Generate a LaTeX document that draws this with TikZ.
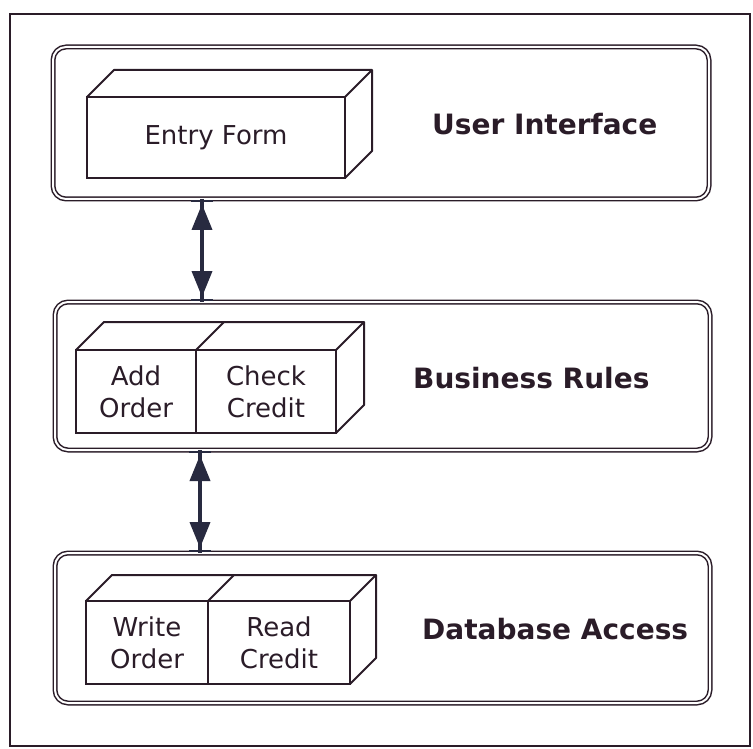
\documentclass[tikz,border=0pt]{standalone}
\usepackage{fontspec}
\setmainfont{DejaVu Sans}
\usetikzlibrary{arrows.meta,calc}
\definecolor{ink}{RGB}{42,28,40}
\definecolor{navy}{RGB}{40,42,64}
\begin{document}
\begin{tikzpicture}[x=1pt,y=-1pt,
  frame/.style={draw=ink,line width=1.5pt,inner sep=0pt,outer sep=0pt},
  layer/.style={draw=ink,double=white,double distance=2pt,line width=1.5pt,
    rounded corners=13pt,inner sep=0pt,outer sep=0pt},
  face/.style={draw=ink,line width=2pt,inner sep=0pt,outer sep=0pt,
    align=center,font=\fontsize{26}{32}\selectfont,text=ink},
  edge3d/.style={draw=ink,line width=2pt,line join=round},
  title/.style={font=\fontsize{28}{33}\bfseries\selectfont,text=ink,inner sep=0pt,anchor=base west},
  shaft/.style={draw=navy,line width=3.8pt},
  heads/.style={draw=navy,fill=navy,line width=3.8pt,shorten <=5pt,shorten >=5pt,
    {Triangle[width=20pt,length=26pt]}-{Triangle[width=20pt,length=26pt]}},
  capbar/.style={draw=navy,line width=2.6pt}]
\useasboundingbox (0,0) rectangle (753,749);
% outer frame
\node[frame,minimum width=740pt,minimum height=732pt] (outer) at (380,380) {};
% layers
\node[layer,minimum width=656pt,minimum height=152pt] (ui) at (381,123) {};
\node[layer,minimum width=655pt,minimum height=148pt] (br) at (382.5,376) {};
\node[layer,minimum width=655pt,minimum height=150pt] (da) at (382.5,628) {};
% titles
\node[title] (tui) at (432,135) {User Interface};
\node[title] (tbr) at (413,388) {Business Rules};
\node[title] (tda) at (422,639) {Database Access};
% Entry form box
\node[face,minimum width=258pt,minimum height=81pt] (ef) at (216,137.5) {Entry Form};
\draw[edge3d] (ef.north west) -- ++(27,-27) -- ($(ef.north east)+(27,-27)$) -- ++(0,81) -- (ef.south east);
\draw[edge3d] (ef.north east) -- ++(27,-27);
% Business rules boxes
\node[face,minimum width=120pt,minimum height=83pt] (ao) at (136,391.5) {Add\\Order};
\node[face,minimum width=140pt,minimum height=83pt] (cc) at (266,391.5) {Check\\Credit};
\draw[edge3d] (ao.north west) -- ++(28,-28) -- ($(cc.north east)+(28,-28)$) -- ++(0,83) -- (cc.south east);
\draw[edge3d] (cc.north east) -- ++(28,-28);
\draw[edge3d] (ao.north east) -- ++(28,-28);
% Database access boxes
\node[face,minimum width=122pt,minimum height=83pt] (wo) at (147,642.5) {Write\\Order};
\node[face,minimum width=142pt,minimum height=83pt] (rc) at (279,642.5) {Read\\Credit};
\draw[edge3d] (wo.north west) -- ++(26,-26) -- ($(rc.north east)+(26,-26)$) -- ++(0,83) -- (rc.south east);
\draw[edge3d] (rc.north east) -- ++(26,-26);
\draw[edge3d] (wo.north east) -- ++(26,-26);
% arrows
\coordinate (xa) at (202,0);
\coordinate (xb) at (200,0);
\coordinate (a1) at (ui.south -| xa);
\coordinate (a2) at (br.north -| xa);
\coordinate (b1) at (br.south -| xb);
\coordinate (b2) at (da.north -| xb);
\draw[shaft] (a1) -- (a2);
\draw[heads] (a1) -- (a2);
\draw[capbar] ($(a1)+(-11,2)$) -- ($(a1)+(11,2)$);
\draw[capbar] ($(a2)+(-11,-2)$) -- ($(a2)+(11,-2)$);
\draw[shaft] (b1) -- (b2);
\draw[heads] (b1) -- (b2);
\draw[capbar] ($(b1)+(-11,2)$) -- ($(b1)+(11,2)$);
\draw[capbar] ($(b2)+(-11,-2)$) -- ($(b2)+(11,-2)$);
\end{tikzpicture}
\end{document}
